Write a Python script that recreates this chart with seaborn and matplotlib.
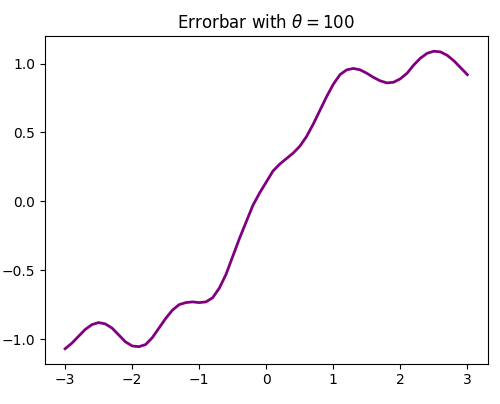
import matplotlib
matplotlib.use("Agg")
import matplotlib.pyplot as plt
import seaborn as sns

x_vals = [round(-3.0 + 0.1 * i, 1) for i in range(61)]
y_vals = [-1.07, -1.03, -0.98, -0.93, -0.895, -0.88, -0.89, -0.92, -0.97, -1.02,
          -1.05, -1.055, -1.04, -0.99, -0.92, -0.85, -0.79, -0.75, -0.735, -0.73,
          -0.735, -0.73, -0.70, -0.63, -0.53, -0.40, -0.27, -0.15, -0.03, 0.06,
          0.14, 0.22, 0.27, 0.31, 0.35, 0.40, 0.47, 0.56, 0.66, 0.76,
          0.85, 0.92, 0.955, 0.965, 0.955, 0.93, 0.90, 0.875, 0.86, 0.865,
          0.89, 0.93, 0.99, 1.04, 1.075, 1.09, 1.085, 1.06, 1.02, 0.97, 0.92]

fig, ax = plt.subplots(figsize=(5, 4.04), dpi=100)
fig.subplots_adjust(left=0.09, right=0.975, top=0.91, bottom=0.10)
sns.lineplot(x=x_vals, y=y_vals, ax=ax, color='purple', linewidth=2)
ax.set_title(r'Errorbar with $\theta = 100$')
ax.set_yticks([-1.0, -0.5, 0.0, 0.5, 1.0])
plt.savefig('out.png', dpi=100)
